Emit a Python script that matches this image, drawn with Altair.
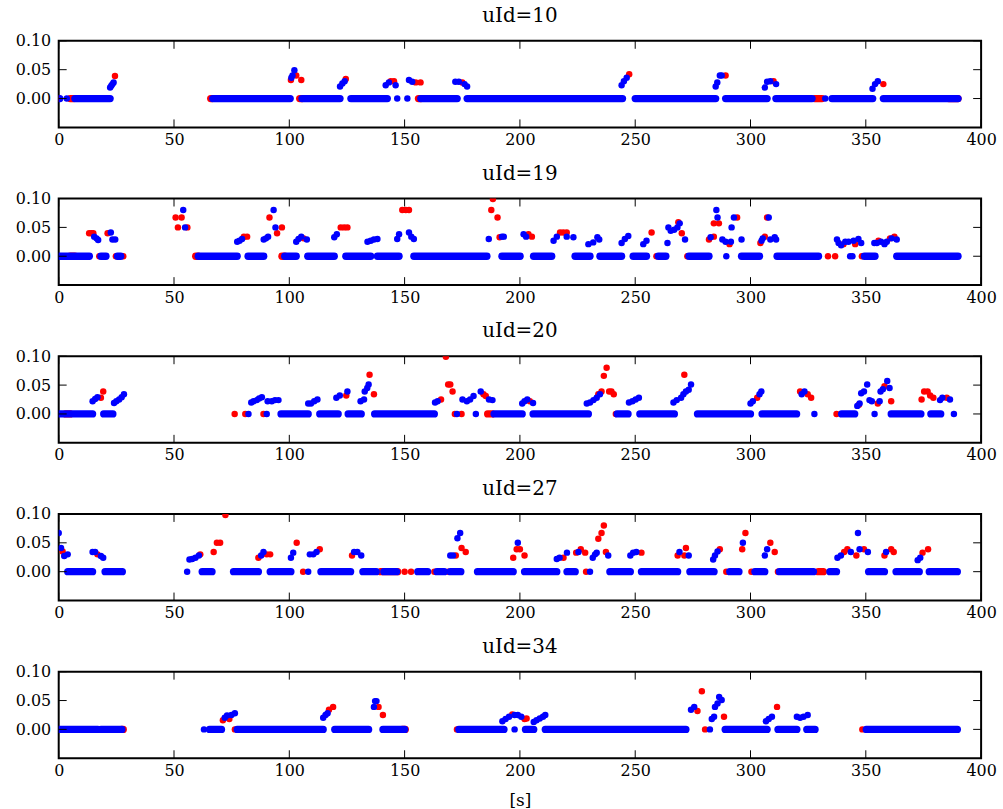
import altair as alt
import pandas as pd

X_TICKS = [0, 50, 100, 150, 200, 250, 300, 350, 400]
Y_TICKS = [0.0, 0.05, 0.10]
PLOT_W, PLOT_H = 927, 87
FONT = "DejaVu Serif"
RED, BLUE = "#ff0000", "#0000ff"

# ---------------- uId=10 ----------------
u10_blue_runs = [(0, 0.5), (7, 22.3), (66.8, 100.4), (105.5, 122), (126.7, 142.5), (157, 172.8),
                 (177.1, 244.5), (250, 284.9), (289.2, 307.2), (311, 326.7), (335.3, 353), (357.6, 390)]
u10_red_runs = [(5, 6.5), (65.9, 66.5), (104.5, 105.5), (156, 157), (327.8, 331), (386, 390)]
u10_red = [(0, 0), (233, 0), (24.4, 0.039), (100.7, 0.032), (103, 0.040), (105.2, 0.032), (124.5, 0.034),
           (144, 0.030), (145.4, 0.030), (154.8, 0.028), (156.9, 0.028), (175, 0.028), (247.4, 0.042),
           (289.2, 0.040), (310, 0.030), (357.6, 0.025)]
u10_blue = [(3.5, 0), (146.8, 0), (151.2, 0), (332.4, 0),
            (22.3, 0.019), (22.8, 0.022), (23.3, 0.025), (23.8, 0.028),
            (100.9, 0.036), (101.4, 0.040), (102.2, 0.049),
            (122, 0.021), (123, 0.026), (124, 0.030),
            (141.8, 0.023), (143.2, 0.028), (146.1, 0.023),
            (151.9, 0.032), (153.3, 0.029),
            (172, 0.029), (173.5, 0.029), (176, 0.025), (177.1, 0.021),
            (244.1, 0.023), (245.1, 0.030), (246.3, 0.036),
            (284.9, 0.021), (285.6, 0.028), (286.7, 0.040), (287.5, 0.040),
            (306.2, 0.019), (307.2, 0.029), (308.6, 0.030), (311.1, 0.025),
            (352.9, 0.017), (354, 0.025), (355.2, 0.030)]

# ---------------- uId=19 ----------------
u19_blue_runs = [(0, 13.3), (18.3, 20.5), (25.5, 26.9), (60.5, 77.4), (82.1, 88.9), (98, 103), (108, 119.5),
                 (124.5, 135.3), (138.2, 147.6), (154, 185.7), (192.2, 200.1), (205.9, 213.8), (223.9, 230.4),
                 (234.7, 244.1), (249.1, 254.9), (260, 263.3), (273.3, 282), (296.1, 303.9), (311.5, 329.5),
                 (349.4, 354), (363.4, 390)]
u19_red_runs = [(5, 7), (59.4, 60.5), (96.8, 98)]
u19_red = [(17.6, 0), (24.8, 0), (28, 0), (131, 0), (195, 0), (259.2, 0), (272.6, 0), (333.6, 0), (336.7, 0),
           (348.3, 0),
           (13.2, 0.040), (14.2, 0.040), (15, 0.040), (21.2, 0.040),
           (50.7, 0.067), (51.7, 0.050), (53.3, 0.067), (55.8, 0.050),
           (80.3, 0.034), (81.7, 0.034), (91.4, 0.067), (94.7, 0.040), (96.8, 0.050), (106.2, 0.031),
           (122.3, 0.050), (123.8, 0.050), (125.2, 0.050),
           (149, 0.080), (150.5, 0.080), (151.9, 0.080),
           (187.6, 0.080), (188.3, 0.099), (190.3, 0.067), (191.2, 0.033),
           (203.7, 0.038), (205.2, 0.034), (217.4, 0.041), (218.8, 0.041), (220.3, 0.041),
           (257.1, 0.041), (268.7, 0.059), (270.2, 0.040),
           (282, 0.029), (284.1, 0.034), (284.1, 0.057), (286.3, 0.057), (290.9, 0.021), (294.2, 0.067),
           (304.3, 0.023), (306.2, 0.034), (307.2, 0.067),
           (340.3, 0.021), (345.4, 0.021), (355.5, 0.027), (360.5, 0.031), (362.4, 0.034)]
u19_blue = [(289.5, 0), (343.2, 0), (344.2, 0),
            (15.4, 0.034), (16.4, 0.031), (17.1, 0.028), (22.6, 0.041), (23.3, 0.029), (24.5, 0.029),
            (54, 0.080), (54.8, 0.050),
            (77.4, 0.025), (78.4, 0.027), (79.5, 0.030),
            (88.9, 0.029), (89.9, 0.031), (90.8, 0.034), (93.2, 0.080), (94, 0.050),
            (103, 0.025), (104, 0.030), (105.2, 0.034), (107.6, 0.029),
            (119.5, 0.033), (120.6, 0.038),
            (133.9, 0.025), (135.3, 0.027), (136.7, 0.029), (138.2, 0.030),
            (146.8, 0.030), (147.6, 0.038), (151.9, 0.041), (152.9, 0.034), (154, 0.030),
            (186.5, 0.030), (192.2, 0.034), (193, 0.034),
            (201.6, 0.038), (202.7, 0.034),
            (214.6, 0.027), (216, 0.034), (220.3, 0.034), (223.2, 0.033),
            (229.7, 0.021), (231.8, 0.024), (233.6, 0.033), (234.4, 0.029),
            (244.1, 0.023), (245.5, 0.030), (247, 0.035),
            (253.5, 0.021), (254.9, 0.027),
            (264, 0.023), (264.4, 0.050), (265.4, 0.044), (266.9, 0.046), (268.3, 0.050), (269.3, 0.057),
            (271.6, 0.029),
            (282.7, 0.033), (285.2, 0.080), (285.7, 0.067), (287.8, 0.029), (289.2, 0.025), (291.5, 0.025),
            (291.8, 0.050), (292.8, 0.067), (296.1, 0.029),
            (304.8, 0.027), (305.3, 0.031), (307.9, 0.067), (308.6, 0.029), (310.5, 0.033), (311.1, 0.029),
            (337.5, 0.029), (338.2, 0.023), (339.3, 0.019), (341.1, 0.025), (342.5, 0.025), (344.7, 0.027),
            (346.8, 0.030), (348, 0.023),
            (353.7, 0.023), (354.8, 0.023), (356.6, 0.025), (358.1, 0.021), (359.1, 0.025), (361.2, 0.031),
            (363.4, 0.029)]

# ---------------- uId=20 ----------------
u20_blue_runs = [(0, 14.7), (19.5, 23.5), (96.4, 108.2), (113.2, 121.2), (125.5, 131.2), (137, 162.9),
                 (188.8, 201), (205.7, 229.7), (242.2, 246.9), (252, 267), (277, 300), (305, 320),
                 (339.5, 345.2), (361, 373.9), (378.2, 382.5)]
u20_red_runs = [(3, 5), (186, 188)]
u20_red = [(76.3, 0), (80.9, 0), (88.8, 0), (171.8, 0), (174.7, 0), (241.6, 0), (337.3, 0),
           (18.3, 0.028), (19.3, 0.039), (124.7, 0.032), (134.8, 0.068), (136.7, 0.034),
           (165.8, 0.025), (167.9, 0.099), (168.9, 0.051), (169.8, 0.051), (170.8, 0.039), (184.2, 0.034),
           (185.2, 0.031),
           (204.3, 0.022), (234, 0.034), (235.4, 0.039), (236.4, 0.066), (237.6, 0.080), (238.7, 0.039),
           (239.7, 0.039), (240.7, 0.034),
           (271.3, 0.068), (302.9, 0.028), (321.5, 0.039), (324.8, 0.034), (326.3, 0.028),
           (347, 0.016), (355.2, 0.018), (358.1, 0.048), (361, 0.022),
           (374.2, 0.025), (375.3, 0.039), (376.8, 0.039), (377.9, 0.032), (379.3, 0.028), (385.1, 0.028)]
u20_blue = [(82.3, 0), (90.2, 0), (172.7, 0), (180.9, 0), (327.7, 0), (353.8, 0), (388.2, 0),
            (14.7, 0.022), (15.8, 0.026), (16.8, 0.029),
            (24, 0.019), (25, 0.022), (26.2, 0.025), (27.3, 0.029), (28.3, 0.034),
            (83.5, 0.020), (84.5, 0.022), (85.9, 0.024), (86.9, 0.027), (88.1, 0.029),
            (90.6, 0.022), (92.4, 0.022), (93.8, 0.024), (95.3, 0.024),
            (108.2, 0.018), (109.4, 0.018), (110.8, 0.022), (112.2, 0.025),
            (120.4, 0.028), (121.9, 0.032), (125.2, 0.039),
            (130.9, 0.022), (132.4, 0.025), (132.7, 0.039), (133.8, 0.045), (134.4, 0.051),
            (163.2, 0.020), (164.3, 0.022),
            (175.1, 0.025), (177, 0.022), (178.4, 0.025), (179.9, 0.031), (183, 0.039), (186.6, 0.025),
            (188.1, 0.024),
            (201, 0.018), (202, 0.022), (203.2, 0.025), (205.7, 0.019),
            (229, 0.018), (230.4, 0.020), (231.9, 0.024), (233.3, 0.028), (234.7, 0.034),
            (247.3, 0.020), (248.8, 0.022), (250.2, 0.025), (251.6, 0.028),
            (266.6, 0.020), (268, 0.024), (269.9, 0.028), (270.9, 0.034), (272, 0.039), (273.2, 0.042),
            (274.2, 0.051),
            (300, 0.018), (301, 0.022), (303.9, 0.034), (304.7, 0.039),
            (322.2, 0.034), (323.4, 0.039),
            (346.3, 0.014), (347.3, 0.018), (348, 0.036), (349.2, 0.039), (350.6, 0.051), (351.6, 0.024),
            (352.6, 0.022),
            (356, 0.022), (356.4, 0.039), (357.4, 0.043), (359.3, 0.057), (360.3, 0.045),
            (382.2, 0.024), (383.2, 0.028), (386.5, 0.025)]

# ---------------- uId=27 ----------------
u27_blue_runs = [(3.9, 14.7), (20.1, 27.6), (62.2, 66.5), (75.8, 86.6), (91.7, 100.7), (113.7, 126.6),
                 (131.9, 137.7), (141, 146.5), (155.7, 160), (164, 167.2), (169.8, 174.4), (181.6, 197.1),
                 (202, 216), (220.4, 224), (239, 247.9), (252.7, 268.4), (273.7, 284.2), (291, 295),
                 (301.9, 306.2), (312.5, 327.3), (334.4, 337.3), (351.2, 358.1), (363.1, 373.2),
                 (377.5, 389.7)]
u27_red_runs = [(139.6, 147), (329.4, 331.6)]
u27_red = [(106, 0), (150, 0), (152.8, 0), (162.9, 0), (168.9, 0), (228.7, 0), (289.5, 0), (300.4, 0),
           (311.9, 0),
           (1.7, 0.035), (16.8, 0.030), (61.4, 0.030), (67.2, 0.034), (68.6, 0.050), (70, 0.050),
           (72.3, 0.098),
           (86.6, 0.024), (90.2, 0.030), (91.7, 0.030), (103.2, 0.050), (113.2, 0.039), (127.2, 0.028),
           (172.2, 0.028), (174.7, 0.041), (176.5, 0.034),
           (197.1, 0.024), (198.6, 0.039), (200, 0.039), (202, 0.028), (218.9, 0.024), (224.4, 0.033),
           (226.4, 0.039), (228.3, 0.033),
           (234, 0.057), (235.4, 0.067), (236.4, 0.080), (237.3, 0.034), (252.7, 0.033),
           (268.4, 0.028), (271.3, 0.028), (272, 0.041), (286.7, 0.039),
           (296.4, 0.039), (297.8, 0.067), (308.6, 0.050), (310.5, 0.034),
           (340.6, 0.034), (342, 0.039), (345.9, 0.028), (349.2, 0.039), (358.1, 0.028), (361, 0.039),
           (362.1, 0.034), (374.6, 0.033), (377, 0.039)]
u27_blue = [(55.7, 0), (108.2, 0), (230.4, 0),
            (0, 0.067), (1, 0.041), (2.4, 0.027), (3.9, 0.030),
            (14.7, 0.034), (15.8, 0.034), (18.3, 0.027), (19.3, 0.024),
            (56.7, 0.021), (57.9, 0.022), (59.3, 0.024), (60.8, 0.028),
            (87.8, 0.028), (88.8, 0.034),
            (100.7, 0.024), (101.7, 0.033),
            (108.9, 0.030), (110.4, 0.030), (111.8, 0.034),
            (128.1, 0.034), (129.5, 0.034), (131.2, 0.028),
            (169.8, 0.028), (171, 0.028), (172.9, 0.058), (174.1, 0.067),
            (199.1, 0.050),
            (216, 0.022), (217.2, 0.024), (220.4, 0.033), (225.4, 0.034),
            (231.6, 0.024), (232.6, 0.030), (233.3, 0.033), (238.3, 0.028),
            (247.9, 0.028), (249.1, 0.033), (250.5, 0.034),
            (269.2, 0.034), (273.2, 0.028),
            (283.8, 0.021), (284.6, 0.028), (285.7, 0.035),
            (296.7, 0.050), (306.2, 0.028), (307.2, 0.039),
            (337.7, 0.024), (339.2, 0.028), (343.5, 0.034), (346.6, 0.067), (347.3, 0.039), (350.9, 0.034),
            (358.8, 0.034), (372.5, 0.020), (373.6, 0.024)]

# ---------------- uId=34 ----------------
u34_blue_runs = [(0, 16.9), (18.3, 27.4), (65.4, 70.6), (77.4, 114.7), (119.7, 134.4), (140.6, 150),
                 (173.5, 193.1), (202.4, 206), (211, 272), (289, 307.2), (311.9, 320.1), (324.4, 328),
                 (350.2, 389.7)]
u34_red_runs = [(27.4, 28), (149, 150.3)]
u34_red = [(76.4, 0), (172.7, 0), (280.3, 0), (348.5, 0),
           (71.2, 0.016), (74, 0.018), (117.2, 0.034), (119, 0.039), (138.7, 0.039), (140.6, 0.025),
           (196.7, 0.026), (202, 0.018), (202.9, 0.019), (277, 0.032), (278.9, 0.066), (288.5, 0.022),
           (311.5, 0.039)]
u34_blue = [(63, 0), (197.7, 0), (282.4, 0),
            (72, 0.020), (73, 0.024), (74.9, 0.025), (76.4, 0.028),
            (114.7, 0.020), (115.7, 0.025), (116.6, 0.028),
            (136.7, 0.039), (137.2, 0.049), (137.8, 0.049),
            (192.4, 0.014), (193.8, 0.018), (195.3, 0.022), (197.7, 0.025), (199.1, 0.025), (200.6, 0.022),
            (206, 0.013), (207.2, 0.016), (208.6, 0.019), (210, 0.022), (211, 0.025),
            (274.2, 0.034), (275.6, 0.039),
            (283.2, 0.018), (284.2, 0.022), (284.6, 0.039), (285.7, 0.045), (286.4, 0.056), (287.5, 0.051),
            (306.7, 0.014), (307.9, 0.018), (309.3, 0.022),
            (320.1, 0.022), (321.5, 0.020), (323, 0.022), (324.8, 0.025)]

PANELS = [
    (10, u10_blue_runs, u10_red_runs, u10_blue, u10_red),
    (19, u19_blue_runs, u19_red_runs, u19_blue, u19_red),
    (20, u20_blue_runs, u20_red_runs, u20_blue, u20_red),
    (27, u27_blue_runs, u27_red_runs, u27_blue, u27_red),
    (34, u34_blue_runs, u34_red_runs, u34_blue, u34_red),
]

DOT_SIZE = 42
DOT_D = 7.3
TICK_LEN = 8

xs = alt.Scale(domain=[0, 400], nice=False, zero=False)
ys = alt.Scale(domain=[-0.05, 0.10], nice=False, zero=False)


def make_panel(uid, blue_runs, red_runs, blue_pts, red_pts, last):
    xtitle = "[s]" if last else None
    xax = alt.Axis(values=X_TICKS, format="d", labelFlush=False)
    yax = alt.Axis(values=Y_TICKS, format=".2f")

    def X(field):
        return alt.X(field, scale=xs, axis=xax, title=xtitle)

    def Y(field):
        return alt.Y(field, scale=ys, axis=yax, title=None)

    def runs_df(runs):
        return pd.DataFrame({"start": [a for a, b in runs], "end": [b for a, b in runs],
                             "y": [0.0] * len(runs)})

    def pts_df(pts):
        return pd.DataFrame({"t": [a for a, b in pts], "y": [b for a, b in pts]})

    def runs_layer(runs, color):
        return alt.Chart(runs_df(runs)).mark_rule(
            color=color, strokeWidth=DOT_D, strokeCap="round", clip=True
        ).encode(x=X("start:Q"), x2="end:Q", y=Y("y:Q"))

    def pts_layer(pts, color):
        return alt.Chart(pts_df(pts)).mark_circle(
            color=color, size=DOT_SIZE, opacity=1, clip=True
        ).encode(x=X("t:Q"), y=Y("y:Q"))

    xt = pd.DataFrame({"v": X_TICKS})
    yt = pd.DataFrame({"v": Y_TICKS})
    bottom = alt.Chart(xt).mark_rule(color="black", strokeWidth=1).encode(
        x=X("v:Q"), y=alt.value(PLOT_H), y2=alt.value(PLOT_H - TICK_LEN))
    top = alt.Chart(xt).mark_rule(color="black", strokeWidth=1).encode(
        x=X("v:Q"), y=alt.value(0), y2=alt.value(TICK_LEN))
    left = alt.Chart(yt).mark_rule(color="black", strokeWidth=1).encode(
        y=Y("v:Q"), x=alt.value(0), x2=alt.value(TICK_LEN))
    right = alt.Chart(yt).mark_rule(color="black", strokeWidth=1).encode(
        y=Y("v:Q"), x=alt.value(PLOT_W), x2=alt.value(PLOT_W - TICK_LEN))

    return alt.layer(
        runs_layer(red_runs, RED),
        pts_layer(red_pts, RED),
        runs_layer(blue_runs, BLUE),
        pts_layer(blue_pts, BLUE),
        bottom, top, left, right,
    ).properties(
        width=PLOT_W, height=PLOT_H,
        title=alt.TitleParams(f"uId={uid}", font=FONT, fontSize=20, fontWeight="normal",
                              color="black", offset=7, anchor="middle"),
    )


charts = [make_panel(*p, last=(i == len(PANELS) - 1)) for i, p in enumerate(PANELS)]

chart = alt.vconcat(*charts, spacing=14.5).properties(
    padding={"left": 14, "top": 3, "right": 5, "bottom": 2},
    background="white",
).configure_view(
    stroke="black", strokeWidth=2
).configure_axis(
    labelFont=FONT, labelFontSize=16, labelColor="black", domain=False, ticks=False, grid=False,
    titleFont=FONT, titleFontSize=17, titleFontWeight="normal", titleColor="black",
    titlePadding=14,
).configure_axisX(
    labelPadding=4
).configure_axisY(
    labelPadding=8
)

chart.save("out.html", embed_options={"renderer": "svg", "actions": False})
